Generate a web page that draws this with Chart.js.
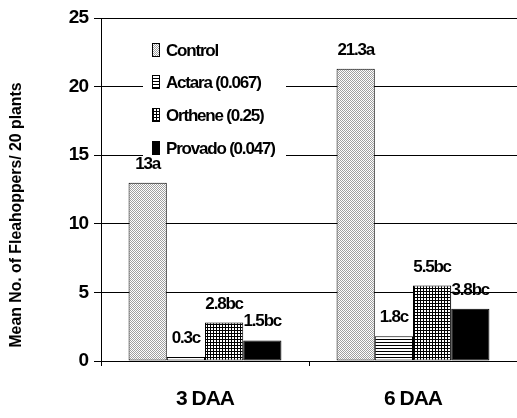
<!DOCTYPE html>
<html>
<head>
<meta charset="utf-8">
<script src="https://cdn.jsdelivr.net/npm/chart.js@4.4.0/dist/chart.umd.min.js"></script>
<style>
  html, body { margin: 0; padding: 0; background: #fff; }
  #wrap { width: 517px; height: 418px; }
</style>
</head>
<body>
<div id="wrap"><canvas id="c" width="517" height="418"></canvas></div>
<script>
// ---- data ----
const categories = ['3 DAA', '6 DAA'];
const seriesNames = ['Control', 'Actara (0.067)', 'Orthene (0.25)', 'Provado (0.047)'];
const controlValues = [13, 21.3];
const actaraValues = [0.3, 1.8];
const ortheneValues = [2.8, 5.5];
const provadoValues = [1.5, 3.8];
const controlLabels = ['13a', '21.3a'];
const actaraLabels = ['0.3c', '1.8c'];
const ortheneLabels = ['2.8bc', '5.5bc'];
const provadoLabels = ['1.5bc', '3.8bc'];
const yTickValues = [0, 5, 10, 15, 20, 25];
const legendRowValues = [22.7, 20.3, 17.9, 15.5];
const yTitle = 'Mean No. of Fleahoppers/ 20 plants';

// ---- patterns ----
function makePattern(w, h, draw) {
  const c = document.createElement('canvas');
  c.width = w; c.height = h;
  const x = c.getContext('2d');
  draw(x);
  return document.getElementById('c').getContext('2d').createPattern(c, 'repeat');
}
const stipple = makePattern(2, 2, x => {
  x.fillStyle = '#ffffff'; x.fillRect(0, 0, 2, 2);
  x.fillStyle = '#a0a0a0'; x.fillRect(0, 0, 1, 1); x.fillRect(1, 1, 1, 1);
});
const hlines = makePattern(3, 3, x => {
  x.fillStyle = '#ffffff'; x.fillRect(0, 0, 3, 3);
  x.fillStyle = '#000000'; x.fillRect(0, 0, 3, 1);
});
const grid = makePattern(3, 3, x => {
  x.fillStyle = '#ffffff'; x.fillRect(0, 0, 3, 3);
  x.fillStyle = '#000000'; x.fillRect(0, 0, 3, 1); x.fillRect(0, 0, 1, 3);
});
const fills = [stipple, hlines, grid, '#000000'];
const seriesValues = [controlValues, actaraValues, ortheneValues, provadoValues];
const seriesLabels = [controlLabels, actaraLabels, ortheneLabels, provadoLabels];

const FONT = '"Liberation Sans", Arial, sans-serif';

const customPlugin = {
  id: 'custom',
  beforeDraw(chart) {
    chart.ctx.letterSpacing = '-1px';
  },
  afterDatasetsDraw(chart) {
    const ctx = chart.ctx;
    const ys = chart.scales.y;
    ctx.save();
    // legend
    const bx = 152, tx = 166;
    const yTop = ys.getPixelForValue(legendRowValues[0]) - 13;
    const yBot = ys.getPixelForValue(legendRowValues[3]) + 9;
    ctx.fillStyle = '#fff';
    ctx.fillRect(143, yTop, 143, yBot - yTop);
    ctx.font = 'bold 17px ' + FONT;
    ctx.letterSpacing = '-1.2px';
    ctx.textAlign = 'left';
    ctx.textBaseline = 'middle';
    seriesNames.forEach((name, i) => {
      const cy = Math.round(ys.getPixelForValue(legendRowValues[i]));
      ctx.fillStyle = fills[i];
      ctx.fillRect(bx, cy - 7, 8, 14);
      ctx.strokeStyle = '#000';
      ctx.lineWidth = 1;
      ctx.strokeRect(bx + 0.5, cy - 6.5, 7, 13);
      ctx.fillStyle = '#000';
      ctx.fillText(name, tx, cy + 1);
    });
    // value labels
    ctx.font = 'bold 17px ' + FONT;
    ctx.letterSpacing = '-1.2px';
    ctx.fillStyle = '#000';
    ctx.textAlign = 'center';
    ctx.textBaseline = 'alphabetic';
    chart.data.datasets.forEach((ds, di) => {
      const meta = chart.getDatasetMeta(di);
      meta.data.forEach((bar, i) => {
        ctx.fillText(seriesLabels[di][i], bar.x, bar.y - 14);
      });
    });
    // y-axis title
    ctx.font = 'bold 15.8px ' + FONT;
    ctx.letterSpacing = '0px';
    ctx.textAlign = 'center';
    ctx.textBaseline = 'middle';
    ctx.translate(17, 215);
    ctx.rotate(-Math.PI / 2);
    ctx.fillText(yTitle, 0, 0);
    ctx.restore();
  }
};

new Chart(document.getElementById('c'), {
  type: 'bar',
  data: {
    labels: categories,
    datasets: seriesNames.map((name, i) => ({
      label: name,
      data: seriesValues[i],
      backgroundColor: fills[i],
      borderColor: '#000',
      borderWidth: 1,
      borderSkipped: false,
      categoryPercentage: 0.735,
      barPercentage: 1.0
    }))
  },
  options: {
    responsive: false,
    animation: false,
    devicePixelRatio: 1,
    layout: { padding: { top: 18, right: 0, left: 0, bottom: 0 } },
    plugins: { legend: { display: false }, tooltip: { enabled: false } },
    scales: {
      x: {
        grid: { display: true, drawOnChartArea: false, drawTicks: true, tickLength: 5, color: '#000', offset: true },
        border: { display: true, color: '#000', width: 1 },
        ticks: { color: '#000', font: { family: FONT, size: 21, weight: 'bold' }, padding: 21 },
        afterFit(scale) { scale.height = 57; }
      },
      y: {
        min: 0, max: 25,
        afterBuildTicks(scale) { scale.ticks = yTickValues.map(v => ({ value: v })); },
        grid: { color: '#000', lineWidth: 1, tickLength: 7, drawTicks: true },
        border: { display: true, color: '#000', width: 1 },
        ticks: { color: '#000', font: { family: FONT, size: 19, weight: 'bold' }, padding: 6 },
        afterFit(scale) { scale.width = 101; }
      }
    }
  },
  plugins: [customPlugin]
});
</script>
</body>
</html>
